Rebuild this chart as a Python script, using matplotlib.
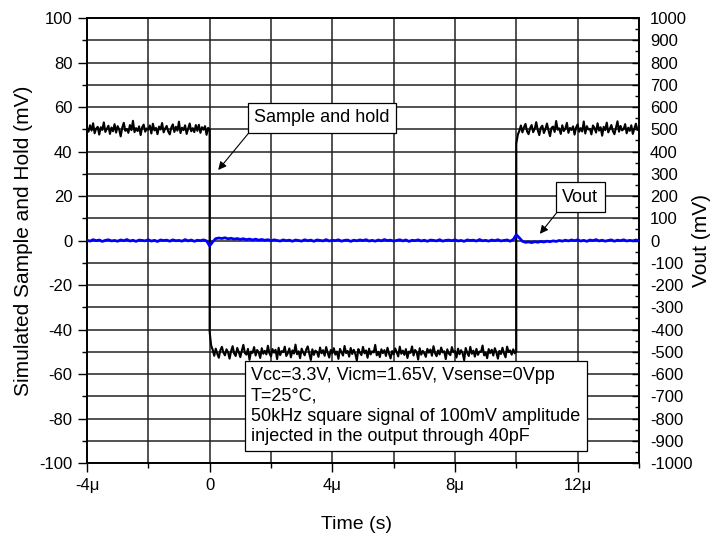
import numpy as np
import matplotlib
matplotlib.use('Agg')
import matplotlib.pyplot as plt
from matplotlib.ticker import MultipleLocator

plt.rcParams['font.family'] = ['Liberation Sans', 'DejaVu Sans']
plt.rcParams['axes.unicode_minus'] = False

# 1. Data (time in us, sample&hold in mV, Vout in mV on right axis)
sh_step = 0.05
sh_high_1 = [50.6, 48.9, 51.8, 49.4, 52.7, 48.2, 50.3, 51.1, 47.6, 50.9,
             49.7, 53.1, 48.8, 50.2, 51.6, 47.9, 50.8, 49.1, 52.3, 48.5,
             51.4, 49.9, 46.8, 50.7, 52.9, 49.3, 50.1, 48.4, 51.9, 49.6,
             53.8, 48.7, 50.5, 49.2, 51.3, 47.4, 50.9, 52.1, 48.9, 50.4,
             49.8, 51.7, 48.1, 52.5, 49.5, 50.6, 47.8, 51.2, 49.9, 52.8,
             48.6, 50.3, 51.5, 49.0, 47.7, 50.8, 52.2, 48.8, 51.1, 49.4,
             53.4, 48.3, 50.7, 49.6, 51.8, 47.9, 50.2, 52.6, 49.1, 50.5,
             48.7, 51.9, 49.3, 52.0, 48.4, 50.9, 49.8, 51.4, 47.5, 50.6,
             50.0]
sh_low = [-41.0, -47.2, -49.1, -51.8, -48.6, -50.9, -52.7, -49.3, -47.8, -50.4,
          -51.6, -48.9, -50.2, -53.1, -49.7, -47.5, -50.8, -51.9, -48.3, -50.1,
          -52.4, -49.5, -46.9, -50.6, -51.3, -48.7, -53.6, -49.9, -50.5, -47.9,
          -51.7, -49.2, -50.3, -52.8, -48.4, -50.9, -49.6, -51.2, -47.3, -50.7,
          -52.1, -48.8, -50.4, -49.1, -53.3, -48.2, -51.5, -49.7, -50.2, -47.7,
          -51.9, -50.6, -48.5, -52.5, -49.4, -50.8, -46.8, -51.1, -49.8, -52.9,
          -48.6, -50.3, -51.6, -49.0, -47.6, -50.9, -53.7, -48.9, -51.4, -49.5,
          -50.1, -52.3, -48.1, -50.7, -49.3, -51.8, -47.9, -50.5, -52.6, -49.2,
          -50.8, -48.4, -51.3, -49.9, -53.2, -48.7, -50.2, -51.7, -47.4, -50.6,
          -49.6, -52.2, -48.3, -51.0, -49.1, -50.9, -53.9, -48.8, -50.4, -51.5,
          -47.8, -50.7, -49.4, -52.7, -48.6, -51.2, -49.8, -50.3, -46.9, -51.6,
          -50.0, -52.4, -48.9, -50.6, -49.3, -51.9, -48.2, -50.8, -53.0, -49.7,
          -51.1, -48.5, -50.2, -52.1, -47.7, -50.9, -49.5, -51.4, -48.8, -52.8,
          -49.9, -50.5, -47.6, -51.7, -49.2, -50.1, -53.5, -48.4, -51.3, -49.6,
          -50.7, -52.3, -48.7, -50.4, -49.0, -51.8, -47.5, -50.6, -52.0, -49.4,
          -51.2, -48.1, -50.3, -49.8, -53.3, -48.9, -50.8, -51.5, -47.9, -50.2,
          -49.7, -52.6, -48.6, -51.1, -49.3, -50.7, -53.8, -48.3, -50.5, -51.9,
          -47.8, -50.9, -49.5, -52.2, -48.7, -51.4, -49.9, -50.1, -47.2, -51.6,
          -50.4, -52.9, -48.8, -50.6, -49.1, -51.7, -48.4, -50.3, -53.1, -49.6,
          -51.0, -48.2, -50.8, -52.5, -47.7, -50.2, -49.4, -51.3, -48.9, -50.7,
          -50.0]
sh_high_2 = [43.5, 47.6, 49.3, 51.7, 48.6, 50.9, 52.4, 49.1, 47.8, 50.5,
             51.9, 48.7, 50.2, 53.2, 49.6, 47.4, 50.8, 51.6, 48.3, 50.1,
             52.6, 49.5, 46.9, 50.7, 51.2, 48.8, 53.7, 49.8, 50.4, 47.9,
             51.8, 49.2, 50.3, 52.9, 48.4, 50.6, 49.7, 51.3, 47.6, 50.8,
             52.2, 48.9, 50.5, 49.0, 53.5, 48.1, 51.4, 49.9, 50.2, 47.7,
             51.7, 50.6, 48.5, 52.7, 49.4, 50.9, 47.1, 51.1, 49.6, 53.0,
             48.6, 50.3, 51.9, 49.2, 47.8, 50.8, 53.6, 48.9, 51.5, 49.5,
             50.1, 52.3, 48.2, 50.7, 49.3, 51.8, 47.9, 50.4, 52.5, 49.7,
             50.3]

vout_step = 0.1
vout = [1.5, -2.8, 3.9, -0.6, 2.2, -4.1, 0.8, 3.3, -1.9, 0.4,
        -3.2, 2.7, -0.9, 4.4, -2.3, 1.1, -3.8, 2.0, 0.3, -1.4,
        3.6, -2.6, 0.9, -4.3, 2.5, -0.2, 1.8, -3.1, 3.0, -1.1,
        0.6, -2.9, 4.1, -1.7, 2.3, -3.5, 1.2, -0.7, 2.8, -1.6,
        -24.0, -6.0, 8.5, 11.2, 9.0, 12.4, 7.6, 10.1, 6.3, 8.8,
        5.2, 7.9, 3.8, 6.5, 2.4, 5.9, 1.7, 4.6, 0.9, 3.7,
        -1.2, 3.1, 0.4, -2.5, 2.9, -0.8, 1.6, -3.3, 2.2, 0.1,
        -2.7, 3.5, -1.0, 1.9, -3.6, 2.6, 0.5, -1.8, 4.0, -2.2,
        1.3, -0.4, 3.2, -2.9, 0.7, 2.1, -3.9, 1.5, -1.3, 2.8,
        -0.5, 3.8, -2.4, 0.9, -3.0, 2.4, -1.5, 4.2, -0.3, 1.7,
        -2.6, 0.2, 3.4, -1.9, 2.6, -4.0, 1.0, -0.6, 2.9, -2.1,
        1.4, -3.4, 2.0, 0.5, -1.7, 3.7, -2.8, 0.8, 1.9, -0.9,
        3.1, -2.0, 0.3, -3.7, 2.7, -0.1, 1.6, -2.4, 4.3, -1.2,
        0.7, -2.7, 2.3, -0.8, 3.5, -1.9, 0.2, 2.6, -3.1, 4.5,
        26.0, 12.0, -3.5, -8.2, -6.1, -9.4, -5.3, -7.8, -4.2, -6.6,
        -3.0, -5.4, -1.6, -4.1, 0.2, -2.8, 1.4, -1.9, 2.5, -0.7,
        3.2, -2.3, 0.8, -3.6, 2.1, -0.5, 4.0, -1.8, 1.3, -2.9,
        0.4, 2.7, -3.2, 1.6, -0.9, 3.3, -2.1, 0.6, -1.4, 2.4,
        -0.8]

xticks = [-4, 0, 4, 8, 12]
xticklabels = ['-4μ', '0', '4μ', '8μ', '12μ']
note_text = ('Vcc=3.3V, Vicm=1.65V, Vsense=0Vpp\nT=25°C,\n'
             '50kHz square signal of 100mV amplitude\n'
             'injected in the output through 40pF')

# 2. Time axes for the traces
t_high_1 = -4 + sh_step * np.arange(len(sh_high_1))
t_low = 0 + sh_step * np.arange(len(sh_low))
t_high_2 = 10 + sh_step * np.arange(len(sh_high_2))
t_sh = np.concatenate([t_high_1, t_low, t_high_2])
v_sh = np.concatenate([sh_high_1, sh_low, sh_high_2])
t_vout = -4 + vout_step * np.arange(len(vout))

# 3. Plot
fig = plt.figure(figsize=(7.14, 5.38), dpi=100)
ax = fig.add_axes([0.1218, 0.1394, 0.7731, 0.8271])
ax2 = ax.twinx()

ax.plot(t_sh, v_sh, color='black', lw=1.5, zorder=3)
ax2.plot(t_vout, vout, color='#0000ff', lw=2.0, zorder=3)

ax.set_xlim(-4, 14)
ax.set_ylim(-100, 100)
ax2.set_ylim(-1000, 1000)

ax.set_xticks(xticks)
ax.set_xticklabels(xticklabels)
ax.xaxis.set_minor_locator(MultipleLocator(2))
ax.yaxis.set_major_locator(MultipleLocator(20))
ax.yaxis.set_minor_locator(MultipleLocator(10))
ax2.yaxis.set_major_locator(MultipleLocator(100))
ax2.yaxis.set_minor_locator(MultipleLocator(50))

ax.grid(True, which='both', color='#222222', lw=1.1, zorder=0)
ax.set_axisbelow(True)

ax.tick_params(axis='both', which='major', direction='out', length=6.5, width=1,
               labelsize=12, pad=4)
ax.tick_params(axis='both', which='minor', direction='out', length=3.6, width=1)
ax.tick_params(axis='y', which='both', right=False)
ax2.tick_params(axis='y', which='major', direction='in', length=5, width=1,
                labelsize=12, pad=8)
ax2.tick_params(axis='y', which='minor', direction='in', length=3, width=1)

for a in (ax, ax2):
    for s in a.spines.values():
        s.set_linewidth(1.2)
        s.set_color('black')

ax.set_xlabel('Time (s)', fontsize=14)
ax.xaxis.set_label_coords(0.489, -0.119)
ax.set_ylabel('Simulated Sample and Hold (mV)', fontsize=15)
ax.yaxis.set_label_coords(-0.098, 0.5)
ax2.set_ylabel('Vout (mV)', fontsize=15)
ax2.yaxis.set_label_coords(1.096, 0.5)

# 4. Annotations
box = dict(boxstyle='square,pad=0.35', fc='white', ec='black', lw=0.9)
ax.annotate('Sample and hold', xy=(0.28, 31.7), xytext=(3.66, 55.1),
            ha='center', va='center', fontsize=13, bbox=box, zorder=5,
            arrowprops=dict(arrowstyle='-|>', color='black', lw=0.8,
                            mutation_scale=12, relpos=(0, 0),
                            shrinkA=0, shrinkB=0))
ax2.annotate('Vout', xy=(10.77, 30), xytext=(12.09, 195.5),
             ha='center', va='center', fontsize=13, bbox=box, zorder=5,
             arrowprops=dict(arrowstyle='-|>', color='black', lw=0.8,
                             mutation_scale=12, relpos=(0, 0),
                             shrinkA=0, shrinkB=0))
ax2.text(1.35, -570, note_text, ha='left', va='top', fontsize=13,
         linespacing=1.25, bbox=dict(boxstyle='square,pad=0.35', fc='white',
                                     ec='black', lw=0.9), zorder=5)

fig.savefig('out.png', dpi=100)
